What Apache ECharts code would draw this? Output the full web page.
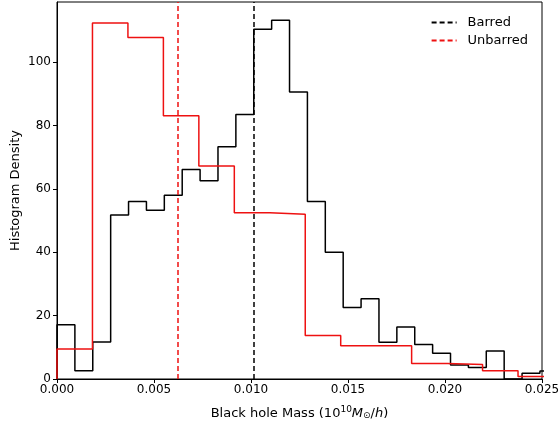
<!DOCTYPE html>
<html>
<head>
<meta charset="utf-8">
<script src="https://cdn.jsdelivr.net/npm/echarts@6/dist/echarts.min.js"></script>
<style>
  html, body { margin: 0; padding: 0; background: #fff; }
  #chart { width: 559px; height: 425px; }
</style>
</head>
<body>
<div id="chart"></div>
<script>
// histogram bins (density values)
const barredBinWidth = 0.000922
const barredDensity = [17.1, 2.6, 11.7, 51.8, 56.0, 53.3, 58.0, 66.1, 62.6, 73.3, 83.5, 110.4, 113.2, 90.6,
  56.0, 40.0, 22.6, 25.3, 11.6, 16.4, 10.9, 8.1, 4.4, 3.6, 8.8, 0, 1.8, 2.5]

const unbarredBinWidth = 0.001828
const unbarredDensity = [9.5, 112.4, 107.8, 83.1, 67.2, 52.5, 52.0, 13.7, 10.5, 10.5, 4.9, 4.6, 2.6, 0.8]

// medians (dashed vertical lines)
const barredMedian = 0.01015
const unbarredMedian = 0.00622

const xTicks = [0, 0.005, 0.01, 0.015, 0.02, 0.025]
const yTicks = [0, 20, 40, 60, 80, 100]

const FONT = 'DejaVu Sans'
const RED = '#ee1111'
const DASH = [5, 3]

// turn bin values into step outline points (like histtype='step')
function stepPoints(values, width) {
  const pts = [[0, 0]]
  values.forEach((v, i) => pts.push([i * width, v]))
  pts.push([values.length * width, values[values.length - 1]])
  pts.push([values.length * width, 0])
  return pts
}

function medianLine(value, color) {
  return {
    silent: true,
    symbol: 'none',
    precision: 6,
    label: { show: false },
    lineStyle: { color: color, width: 1.5, type: DASH },
    data: [{ xAxis: value }],
  }
}

const chart = echarts.init(document.getElementById('chart'))

const tickStyle = { show: true, inside: false, length: 4, lineStyle: { color: '#000', width: 1 } }

chart.setOption({
  animation: false,
  textStyle: { fontFamily: FONT },
  grid: {
    left: 57, right: 17, top: 2, bottom: 46,
    outerBoundsMode: 'none',
    show: true, borderColor: '#000', borderWidth: 1,
  },
  legend: {
    data: ['Barred', 'Unbarred'],
    orient: 'vertical',
    right: 26,
    top: 11,
    itemWidth: 25,
    itemHeight: 10,
    itemGap: 5,
    itemStyle: { opacity: 0 },
    textStyle: { fontFamily: FONT, fontSize: 13, color: '#000', padding: [0, 0, 0, 6] },
  },
  xAxis: {
    type: 'value',
    min: 0,
    max: 0.025,
    interval: 0.005,
    splitLine: { show: false },
    axisLine: { lineStyle: { color: '#000' } },
    axisTick: Object.assign({ customValues: xTicks }, tickStyle),
    axisLabel: {
      customValues: xTicks,
      margin: 5,
      fontSize: 12,
      color: '#000',
      fontFamily: FONT,
      formatter: v => v.toFixed(3),
    },
    name: '{t|Black hole Mass (10}{sup|10}{it|M}{sub|⊙}{t|/}{it|h}{t|)}',
    nameLocation: 'middle',
    nameGap: 26,
    nameMoveOverlap: false,
    nameTextStyle: {
      rich: {
        t: { fontFamily: FONT, fontSize: 13, color: '#000' },
        sup: { fontFamily: FONT, fontSize: 9, color: '#000', verticalAlign: 'bottom', padding: [0, 0, 8, 0] },
        it: { fontFamily: FONT, fontSize: 13, color: '#000', fontStyle: 'italic' },
        sub: { fontFamily: FONT, fontSize: 9, color: '#000', padding: [6, 0, 0, 0], verticalAlign: 'top' },
      },
    },
  },
  yAxis: {
    type: 'value',
    min: 0,
    max: 119,
    splitLine: { show: false },
    axisLine: { show: true, lineStyle: { color: '#000' } },
    axisTick: Object.assign({ customValues: yTicks }, tickStyle),
    axisLabel: {
      customValues: yTicks,
      margin: 6,
      fontSize: 12,
      color: '#000',
      fontFamily: FONT,
    },
    name: 'Histogram Density',
    nameLocation: 'middle',
    nameGap: 35,
    nameMoveOverlap: false,
    nameTextStyle: { fontFamily: FONT, fontSize: 13, color: '#000' },
  },
  series: [
    {
      name: 'barredHist',
      type: 'line',
      step: 'end',
      symbol: 'none',
      data: stepPoints(barredDensity, barredBinWidth),
      lineStyle: { color: '#000', width: 1.5 },
      itemStyle: { color: '#000' },
      clip: true,
      z: 3,
      markLine: medianLine(barredMedian, '#000'),
    },
    {
      name: 'unbarredHist',
      type: 'line',
      step: 'end',
      symbol: 'none',
      data: stepPoints(unbarredDensity, unbarredBinWidth),
      lineStyle: { color: RED, width: 1.5 },
      itemStyle: { color: RED },
      clip: true,
      z: 4,
      markLine: medianLine(unbarredMedian, RED),
    },
    // legend-only entries
    {
      name: 'Barred',
      type: 'line',
      symbol: 'none',
      data: [],
      itemStyle: { color: '#000' },
      lineStyle: { color: '#000', width: 1.5, type: DASH },
    },
    {
      name: 'Unbarred',
      type: 'line',
      symbol: 'none',
      data: [],
      itemStyle: { color: RED },
      lineStyle: { color: RED, width: 1.5, type: DASH },
    },
  ],
})
</script>
</body>
</html>
